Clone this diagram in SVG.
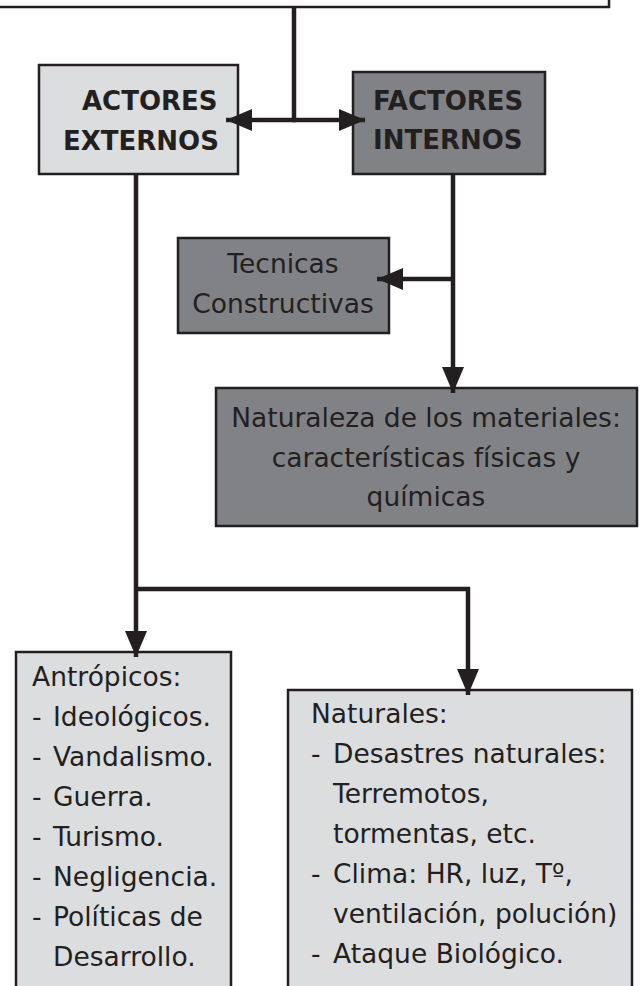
<svg xmlns="http://www.w3.org/2000/svg" width="641" height="986" viewBox="0 0 641 986">
  <style>
    .box { stroke: #231f20; stroke-width: 2.5; }
    .light { fill: #dcdddf; }
    .dark { fill: #808285; }
    .white { fill: #ffffff; }
    .t { font-family: "DejaVu Sans", Verdana, sans-serif; font-size: 26.5px; fill: #231f20; }
    .h { font-family: "DejaVu Sans", Verdana, sans-serif; font-size: 26px; font-weight: bold; fill: #231f20; }
    .c { text-anchor: middle; }
    .conn { fill: none; stroke: #231f20; stroke-width: 4.5; stroke-linejoin: miter; }
  </style>
  <defs>
    <marker id="arrow" markerUnits="userSpaceOnUse" markerWidth="28" markerHeight="24" refX="26" refY="11" orient="auto">
      <path d="M0,0 L26,11 L0,22 Z" fill="#231f20"/>
    </marker>
  </defs>

  <rect width="641" height="986" fill="#ffffff"/>

  <g id="top-box">
    <rect class="box white" x="-10" y="-50" width="619" height="57"/>
  </g>

  <g id="actores-externos">
    <rect class="box light" x="39" y="65" width="199" height="109"/>
    <text class="h" x="82" y="110">ACTORES</text>
    <text class="h" x="63" y="150">EXTERNOS</text>
  </g>

  <g id="factores-internos">
    <rect class="box dark" x="353" y="72" width="192" height="102"/>
    <text class="h" x="373" y="110">FACTORES</text>
    <text class="h" x="373" y="149">INTERNOS</text>
  </g>

  <g id="tecnicas">
    <rect class="box dark" x="178" y="238" width="211" height="95"/>
    <text class="t c" x="283" y="273">Tecnicas</text>
    <text class="t c" x="283" y="313">Constructivas</text>
  </g>

  <g id="naturaleza">
    <rect class="box dark" x="216" y="388" width="421" height="138"/>
    <text class="t c" x="426" y="427">Naturaleza de los materiales:</text>
    <text class="t c" x="426" y="467">características físicas y</text>
    <text class="t c" x="426" y="506">químicas</text>
  </g>

  <g id="antropicos">
    <rect class="box light" x="16" y="652" width="215" height="360"/>
    <text class="t" x="32" y="686">Antrópicos:</text>
    <text class="t" x="32" y="726">- <tspan x="53">Ideológicos.</tspan></text>
    <text class="t" x="32" y="766">- <tspan x="53">Vandalismo.</tspan></text>
    <text class="t" x="32" y="806">- <tspan x="53">Guerra.</tspan></text>
    <text class="t" x="32" y="846">- <tspan x="53">Turismo.</tspan></text>
    <text class="t" x="32" y="886">- <tspan x="53">Negligencia.</tspan></text>
    <text class="t" x="32" y="926">- <tspan x="53">Políticas de</tspan></text>
    <text class="t" x="53" y="966">Desarrollo.</text>
  </g>

  <g id="naturales">
    <rect class="box light" x="288" y="690" width="344" height="330"/>
    <text class="t" x="311" y="723">Naturales:</text>
    <text class="t" x="311" y="763">- <tspan x="333">Desastres naturales:</tspan></text>
    <text class="t" x="333" y="803">Terremotos,</text>
    <text class="t" x="333" y="843">tormentas, etc.</text>
    <text class="t" x="311" y="883">- <tspan x="333">Clima: HR, luz, Tº,</tspan></text>
    <text class="t" x="333" y="923">ventilación, polución)</text>
    <text class="t" x="311" y="963">- <tspan x="333">Ataque Biológico.</tspan></text>
  </g>

  <g id="connectors">
    <path class="conn" d="M294,7 V120"/>
    <path class="conn" d="M296,120 H226" marker-end="url(#arrow)"/>
    <path class="conn" d="M292,120 H365" marker-end="url(#arrow)"/>
    <path class="conn" d="M453,174 V393" marker-end="url(#arrow)"/>
    <path class="conn" d="M455,279 H377" marker-end="url(#arrow)"/>
    <path class="conn" d="M136,174 V657" marker-end="url(#arrow)"/>
    <path class="conn" d="M134,589 H468 V695" marker-end="url(#arrow)"/>
  </g>
</svg>
